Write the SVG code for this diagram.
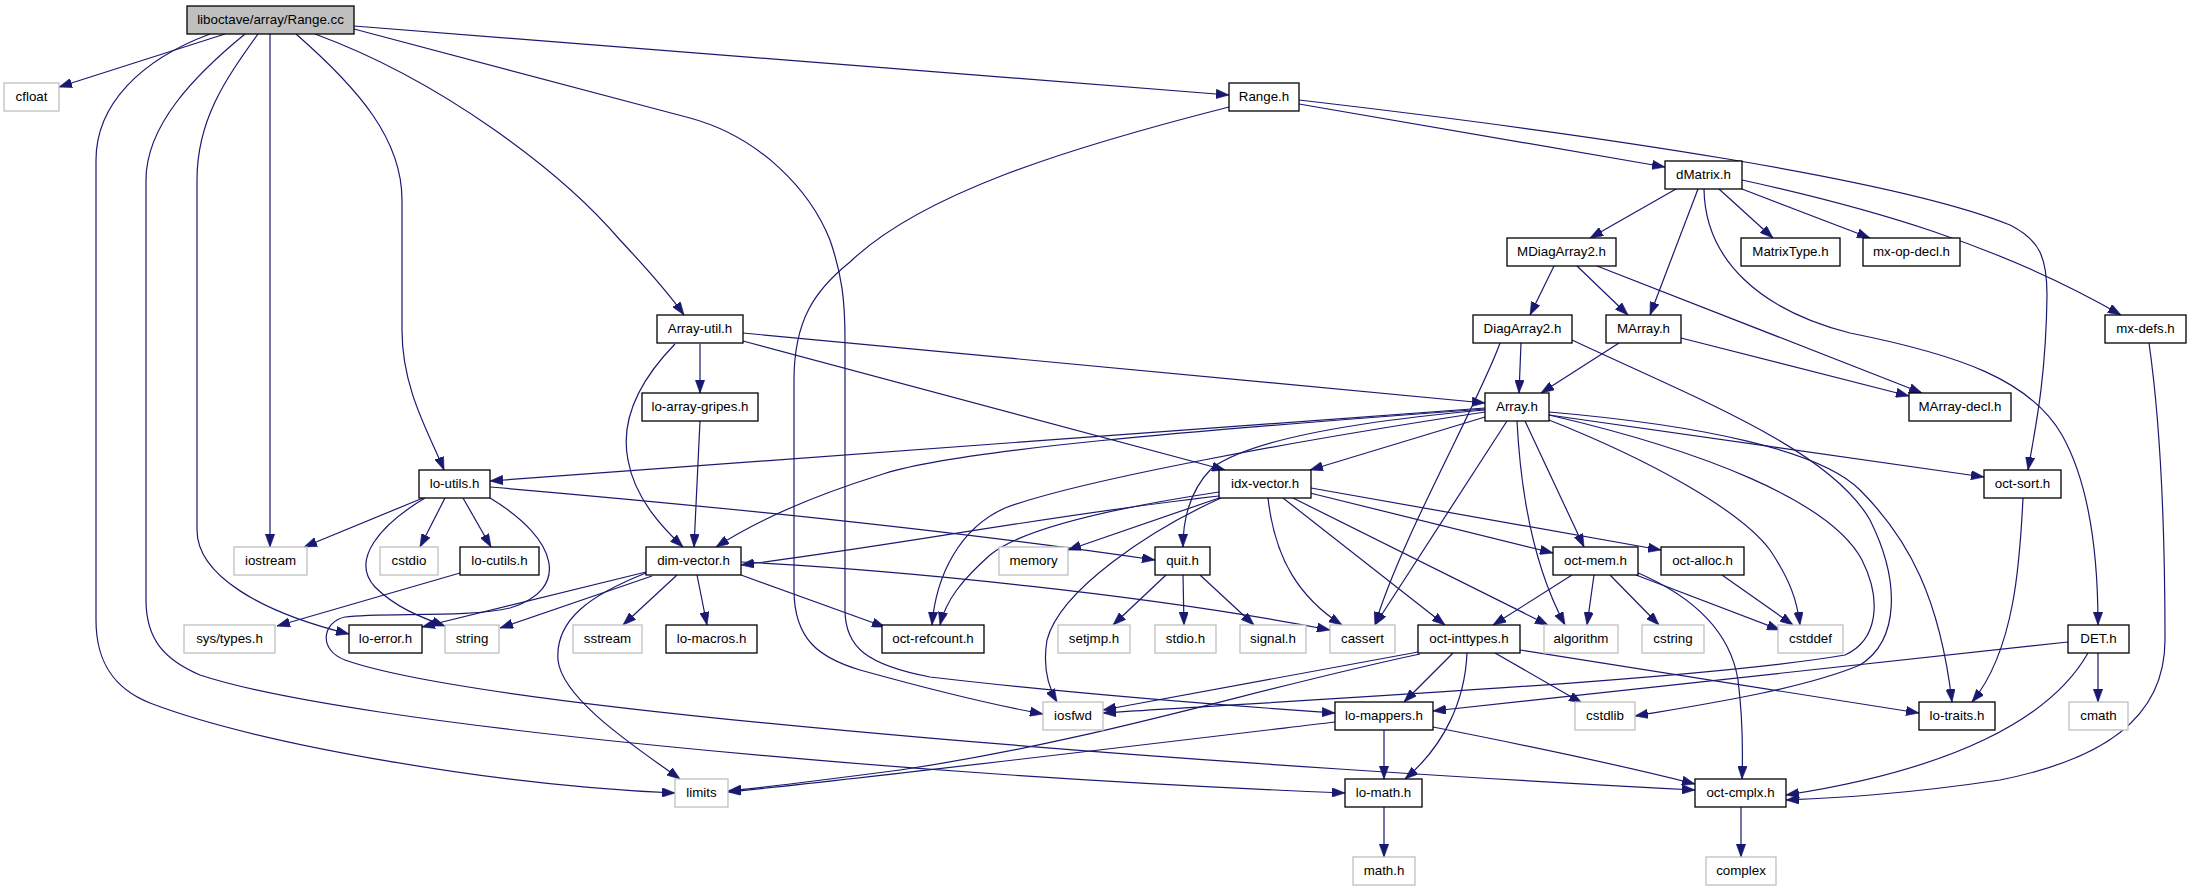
<svg xmlns="http://www.w3.org/2000/svg" width="2191" height="891" viewBox="0 0 2191 891">
<style>
.n rect{fill:#fff;stroke:#000;stroke-width:1.3}
.n.s rect{stroke:#bfbfbf}
.n.r rect{fill:#bfbfbf}
.n text{font-family:"Liberation Sans",Arial,Helvetica,sans-serif;font-size:13.33px;text-anchor:middle;fill:#000}
#edges path{fill:none;stroke:#191970;stroke-width:1.2;marker-end:url(#a)}
</style>
<defs>
<marker id="a" markerUnits="userSpaceOnUse" markerWidth="13" markerHeight="9.4" refX="13" refY="4.7" orient="auto" viewBox="0 0 13 9.4">
<path d="M0,0 L13,4.7 L0,9.4 z" fill="#191970" stroke="#191970" stroke-width="0.6"/>
</marker>
</defs>
<rect width="2191" height="891" fill="#fff"/>
<g id="edges">
<path d="M225,34 L59,87"/>
<path d="M270,34 L270,547"/>
<path d="M210,34 C140,60 96,105 96,160 L96,620 C96,660 112,688 150,703 C260,745 500,786 675,793"/>
<path d="M245,34 C195,75 146,125 146,180 L146,600 C146,640 165,660 200,675 C350,725 900,775 1345,793"/>
<path d="M258,34 C225,80 197,120 197,180 L197,530 C197,575 260,612 349,634"/>
<path d="M296,34 C360,90 402,140 402,200 L402,330 C402,390 430,435 444,470"/>
<path d="M315,34 C440,80 560,170 620,240 C650,272 672,298 684,315"/>
<path d="M354,26 L1229,95"/>
<path d="M354,29 L690,118 C760,137 810,190 830,240 C842,275 845,300 845,340 L845,610 C845,648 868,665 930,677 C1100,697 1250,707 1335,713"/>
<path d="M1229,107 C1060,150 920,195 850,262 C815,290 794,320 794,380 L794,590 C794,640 820,658 860,670 C950,695 1010,708 1043,714"/>
<path d="M1299,104 L1665,167"/>
<path d="M1299,100 C1600,135 1900,180 2010,225 C2040,240 2047,258 2047,295 C2046,380 2035,430 2028,470"/>
<path d="M1676,189 L1590,238"/>
<path d="M1698,189 L1650,315"/>
<path d="M1704,189 C1705,260 1760,310 1850,333 C1960,355 2030,380 2062,435 C2090,485 2098,560 2098,625"/>
<path d="M1719,189 L1773,238"/>
<path d="M1742,189 L1870,238"/>
<path d="M1742,180 C1870,208 2000,245 2121,315"/>
<path d="M1554,266 L1530,315"/>
<path d="M1577,266 L1628,315"/>
<path d="M1597,266 L1922,393"/>
<path d="M1521,343 L1519,393"/>
<path d="M1500,343 C1480,400 1400,540 1375,625"/>
<path d="M1572,340 C1700,400 1830,450 1870,520 C1900,580 1900,640 1860,665 C1800,690 1700,705 1635,716"/>
<path d="M1549,415 C1700,450 1830,500 1862,560 C1882,600 1878,640 1845,655 C1700,680 1300,700 1103,713"/>
<path d="M1619,343 L1541,393"/>
<path d="M1681,338 L1909,396"/>
<path d="M700,344 L700,393"/>
<path d="M675,344 C640,380 620,420 628,460 C635,500 665,530 683,547"/>
<path d="M743,341 L1225,470"/>
<path d="M743,333 L1485,403"/>
<path d="M700,421 L694,547"/>
<path d="M1485,408 L490,481"/>
<path d="M1485,409 C1200,430 950,450 880,475 C800,500 750,525 716,547"/>
<path d="M1485,417 L1310,470"/>
<path d="M1485,410 C1350,422 1250,440 1212,468 C1192,488 1183,515 1183,547"/>
<path d="M1485,412 C1300,440 1080,480 1005,508 C960,528 936,575 932,625"/>
<path d="M1507,421 L1375,625"/>
<path d="M1517,421 C1520,480 1530,560 1565,625"/>
<path d="M1525,421 L1584,547"/>
<path d="M1549,415 L1984,477"/>
<path d="M1549,412 C1700,425 1820,450 1860,490 C1910,540 1940,600 1952,702"/>
<path d="M1549,420 C1650,460 1740,510 1770,550 C1790,580 1797,600 1800,625"/>
<path d="M1219,496 C1050,515 900,545 741,565"/>
<path d="M1219,498 L1068,550"/>
<path d="M1221,498 C1150,530 1060,590 1047,640 C1042,670 1050,690 1057,702"/>
<path d="M1219,492 C1100,510 1020,530 990,555 C962,580 946,600 940,625"/>
<path d="M1268,498 C1275,560 1300,598 1342,625"/>
<path d="M1283,498 L1445,625"/>
<path d="M1293,498 L1548,625"/>
<path d="M1310,493 L1553,553"/>
<path d="M1311,488 L1661,550"/>
<path d="M423,498 L304,547"/>
<path d="M445,498 L420,547"/>
<path d="M463,498 L491,547"/>
<path d="M425,498 C380,525 350,560 375,587 C395,607 420,617 445,626"/>
<path d="M490,498 C560,540 570,590 510,608 C470,618 380,612 345,617 C322,622 318,650 345,660 C500,715 1300,770 1695,790"/>
<path d="M490,487 C700,505 950,530 1155,560"/>
<path d="M460,573 L277,626"/>
<path d="M646,572 L422,627"/>
<path d="M652,576 L500,628"/>
<path d="M646,573 C590,595 555,620 558,660 C562,700 640,750 680,779"/>
<path d="M677,575 L623,625"/>
<path d="M697,575 L707,625"/>
<path d="M741,575 L885,627"/>
<path d="M741,562 C900,570 1150,595 1330,630"/>
<path d="M1166,575 L1113,625"/>
<path d="M1183,575 L1184,625"/>
<path d="M1200,575 L1254,625"/>
<path d="M1572,575 L1493,625"/>
<path d="M1594,575 L1587,625"/>
<path d="M1610,575 L1659,625"/>
<path d="M1636,575 L1780,630"/>
<path d="M1636,572 C1690,595 1730,630 1738,680 C1743,720 1743,750 1742,779"/>
<path d="M1722,575 L1793,625"/>
<path d="M1418,652 L1103,710"/>
<path d="M1420,654 C1250,690 1100,740 900,770 C800,783 760,788 728,791"/>
<path d="M1453,653 L1404,702"/>
<path d="M1467,653 C1465,700 1445,745 1405,779"/>
<path d="M1495,653 L1582,703"/>
<path d="M1520,650 L1919,713"/>
<path d="M1384,730 L1384,779"/>
<path d="M1335,722 C1100,750 850,780 728,792"/>
<path d="M1433,727 C1550,750 1640,770 1695,784"/>
<path d="M1384,807 L1384,857"/>
<path d="M1741,807 L1741,857"/>
<path d="M2068,642 L1433,711"/>
<path d="M2088,653 C2050,720 1950,770 1786,795"/>
<path d="M2098,653 L2098,702"/>
<path d="M2149,343 C2160,420 2165,520 2165,640 C2165,720 2100,760 2000,780 C1900,795 1830,798 1786,800"/>
<path d="M2023,498 C2020,560 2015,650 1972,702"/>
</g>
<g id="n_Range_cc" class="n r"><rect x="187" y="6" width="167" height="28"/><text x="270.5" y="24">liboctave/array/Range.cc</text></g>
<g id="n_cfloat" class="n s"><rect x="4" y="83" width="55" height="28"/><text x="31.5" y="101">cfloat</text></g>
<g id="n_Range_h" class="n"><rect x="1229" y="83" width="70" height="28"/><text x="1264" y="101">Range.h</text></g>
<g id="n_dMatrix" class="n"><rect x="1665" y="161" width="77" height="28"/><text x="1703.5" y="179">dMatrix.h</text></g>
<g id="n_MDiagArray2" class="n"><rect x="1507" y="238" width="109" height="28"/><text x="1561.5" y="256">MDiagArray2.h</text></g>
<g id="n_MatrixType" class="n"><rect x="1741" y="238" width="99" height="28"/><text x="1790.5" y="256">MatrixType.h</text></g>
<g id="n_mx_op_decl" class="n"><rect x="1863" y="238" width="97" height="28"/><text x="1911.5" y="256">mx-op-decl.h</text></g>
<g id="n_mx_defs" class="n"><rect x="2105" y="315" width="81" height="28"/><text x="2145.5" y="333">mx-defs.h</text></g>
<g id="n_DiagArray2" class="n"><rect x="1473" y="315" width="99" height="28"/><text x="1522.5" y="333">DiagArray2.h</text></g>
<g id="n_MArray" class="n"><rect x="1606" y="315" width="75" height="28"/><text x="1643.5" y="333">MArray.h</text></g>
<g id="n_Array_util" class="n"><rect x="657" y="315" width="86" height="28"/><text x="700" y="333">Array-util.h</text></g>
<g id="n_Array" class="n"><rect x="1485" y="393" width="64" height="28"/><text x="1517" y="411">Array.h</text></g>
<g id="n_MArray_decl" class="n"><rect x="1909" y="393" width="102" height="28"/><text x="1960" y="411">MArray-decl.h</text></g>
<g id="n_lo_array_gripes" class="n"><rect x="642" y="393" width="116" height="28"/><text x="700" y="411">lo-array-gripes.h</text></g>
<g id="n_lo_utils" class="n"><rect x="419" y="470" width="71" height="28"/><text x="454.5" y="488">lo-utils.h</text></g>
<g id="n_idx_vector" class="n"><rect x="1219" y="470" width="92" height="28"/><text x="1265" y="488">idx-vector.h</text></g>
<g id="n_oct_sort" class="n"><rect x="1984" y="470" width="77" height="28"/><text x="2022.5" y="488">oct-sort.h</text></g>
<g id="n_iostream" class="n s"><rect x="234" y="547" width="73" height="28"/><text x="270.5" y="565">iostream</text></g>
<g id="n_cstdio" class="n s"><rect x="380" y="547" width="58" height="28"/><text x="409" y="565">cstdio</text></g>
<g id="n_lo_cutils" class="n"><rect x="460" y="547" width="79" height="28"/><text x="499.5" y="565">lo-cutils.h</text></g>
<g id="n_dim_vector" class="n"><rect x="646" y="547" width="95" height="28"/><text x="693.5" y="565">dim-vector.h</text></g>
<g id="n_memory" class="n s"><rect x="999" y="547" width="69" height="28"/><text x="1033.5" y="565">memory</text></g>
<g id="n_quit" class="n"><rect x="1155" y="547" width="55" height="28"/><text x="1182.5" y="565">quit.h</text></g>
<g id="n_oct_mem" class="n"><rect x="1553" y="547" width="85" height="28"/><text x="1595.5" y="565">oct-mem.h</text></g>
<g id="n_oct_alloc" class="n"><rect x="1661" y="547" width="83" height="28"/><text x="1702.5" y="565">oct-alloc.h</text></g>
<g id="n_sys_types" class="n s"><rect x="184" y="625" width="91" height="28"/><text x="229.5" y="643">sys/types.h</text></g>
<g id="n_lo_error" class="n"><rect x="349" y="625" width="73" height="28"/><text x="385.5" y="643">lo-error.h</text></g>
<g id="n_string" class="n s"><rect x="445" y="625" width="54" height="28"/><text x="472" y="643">string</text></g>
<g id="n_sstream" class="n s"><rect x="573" y="625" width="69" height="28"/><text x="607.5" y="643">sstream</text></g>
<g id="n_lo_macros" class="n"><rect x="666" y="625" width="91" height="28"/><text x="711.5" y="643">lo-macros.h</text></g>
<g id="n_oct_refcount" class="n"><rect x="882" y="625" width="102" height="28"/><text x="933" y="643">oct-refcount.h</text></g>
<g id="n_setjmp" class="n s"><rect x="1058" y="625" width="72" height="28"/><text x="1094" y="643">setjmp.h</text></g>
<g id="n_stdio" class="n s"><rect x="1155" y="625" width="61" height="28"/><text x="1185.5" y="643">stdio.h</text></g>
<g id="n_signal" class="n s"><rect x="1240" y="625" width="66" height="28"/><text x="1273" y="643">signal.h</text></g>
<g id="n_cassert" class="n s"><rect x="1330" y="625" width="65" height="28"/><text x="1362.5" y="643">cassert</text></g>
<g id="n_oct_inttypes" class="n"><rect x="1418" y="625" width="102" height="28"/><text x="1469" y="643">oct-inttypes.h</text></g>
<g id="n_algorithm" class="n s"><rect x="1544" y="625" width="74" height="28"/><text x="1581" y="643">algorithm</text></g>
<g id="n_cstring" class="n s"><rect x="1642" y="625" width="62" height="28"/><text x="1673" y="643">cstring</text></g>
<g id="n_cstddef" class="n s"><rect x="1778" y="625" width="65" height="28"/><text x="1810.5" y="643">cstddef</text></g>
<g id="n_DET" class="n"><rect x="2068" y="625" width="61" height="28"/><text x="2098.5" y="643">DET.h</text></g>
<g id="n_iosfwd" class="n s"><rect x="1043" y="702" width="60" height="28"/><text x="1073" y="720">iosfwd</text></g>
<g id="n_lo_mappers" class="n"><rect x="1335" y="702" width="98" height="28"/><text x="1384" y="720">lo-mappers.h</text></g>
<g id="n_cstdlib" class="n s"><rect x="1575" y="702" width="60" height="28"/><text x="1605" y="720">cstdlib</text></g>
<g id="n_lo_traits" class="n"><rect x="1919" y="702" width="76" height="28"/><text x="1957" y="720">lo-traits.h</text></g>
<g id="n_cmath" class="n s"><rect x="2069" y="702" width="59" height="28"/><text x="2098.5" y="720">cmath</text></g>
<g id="n_limits" class="n s"><rect x="675" y="779" width="53" height="28"/><text x="701.5" y="797">limits</text></g>
<g id="n_lo_math" class="n"><rect x="1345" y="779" width="77" height="28"/><text x="1383.5" y="797">lo-math.h</text></g>
<g id="n_oct_cmplx" class="n"><rect x="1695" y="779" width="91" height="28"/><text x="1740.5" y="797">oct-cmplx.h</text></g>
<g id="n_math" class="n s"><rect x="1353" y="857" width="62" height="28"/><text x="1384" y="875">math.h</text></g>
<g id="n_complex" class="n s"><rect x="1706" y="857" width="70" height="28"/><text x="1741" y="875">complex</text></g>
</svg>
